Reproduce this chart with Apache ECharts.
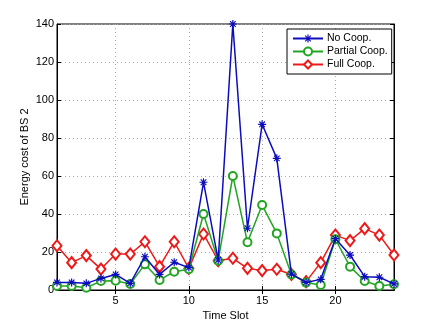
<!DOCTYPE html>
<html>
<head>
<meta charset="utf-8">
<script src="https://cdn.jsdelivr.net/npm/echarts@6/dist/echarts.min.js"></script>
<style>
  html, body { margin: 0; padding: 0; background: #fff; }
  #main { width: 436px; height: 327px; }
</style>
</head>
<body>
<div id="main"></div>
<script>
// time slots 1..24
var slots = [];
for (var i = 1; i <= 24; i++) slots.push(String(i));
var xTicks = ['5', '10', '15', '20'];

var noCoop = [4, 4, 3.5, 6.1, 8.2, 3.5, 17.5, 8.2, 14.6, 11.8, 56.7, 15.8,
              140, 32.5, 87.2, 69.3, 8.4, 4, 5.6, 27, 18.4, 7, 6.7, 3.2];
var partialCoop = [2.1, 2.1, 1.2, 4.7, 4.9, 3.2, 13.5, 5.3, 9.6, 10.9, 40, 15.4,
                   60, 25.1, 44.7, 29.8, 8.2, 3.9, 2.6, 26.7, 12.3, 4.7, 2.1, 3];
var fullCoop = [23.3, 14.4, 18.1, 11, 18.9, 18.9, 25.4, 12.3, 25.4, 11.4, 29.5, 15.4,
                16.7, 11.4, 10.2, 10.9, 8.2, 4.4, 14.4, 28.9, 26, 32.3, 28.9, 18.4];

var FONT = 'Liberation Sans';
// asterisk marker (8 arms)
var asterisk = 'path://M-0.15,-1L0.15,-1L0.15,1L-0.15,1Z' +
    'M-1,-0.15L1,-0.15L1,0.15L-1,0.15Z' +
    'M-0.6,-0.8L0.8,0.6L0.6,0.8L-0.8,-0.6Z' +
    'M0.6,-0.8L0.8,-0.6L-0.6,0.8L-0.8,0.6Z';

function showTick(idx, val) {
    return xTicks.indexOf(slots[idx]) >= 0;
}

var myChart = echarts.init(document.getElementById('main'));
var option = {
    backgroundColor: '#fff',
    animation: false,
    textStyle: { fontFamily: FONT },
    grid: { left: 57, right: 42, top: 24, bottom: 37, show: true, borderColor: '#000', borderWidth: 1 },
    legend: {
        orient: 'vertical',
        left: 287, top: 29,
        padding: [4, 4, 4, 5],
        itemWidth: 30, itemHeight: 10, itemGap: 2,
        borderColor: '#000', borderWidth: 1,
        backgroundColor: '#fff',
        textStyle: { fontFamily: FONT, fontSize: 10.5, color: '#000', padding: [0, 0, 0, -1] },
        data: ['No Coop.', 'Partial Coop.', 'Full Coop.']
    },
    xAxis: [{
        type: 'category',
        data: slots,
        boundaryGap: false,
        name: 'Time Slot',
        nameLocation: 'middle',
        nameGap: 19,
        nameTextStyle: { fontFamily: FONT, fontSize: 11, color: '#000' },
        axisLine: { lineStyle: { color: '#000', width: 1 } },
        axisTick: { inside: true, length: 4, interval: showTick, lineStyle: { color: '#000' } },
        axisLabel: { interval: showTick, fontSize: 11, color: '#000', margin: 5 },
        splitLine: { show: true, interval: showTick, lineStyle: { color: '#aaa', type: [1, 3] } }
    }, {
        type: 'category',
        data: slots,
        boundaryGap: false,
        position: 'top',
        axisLine: { lineStyle: { color: '#000' } },
        axisTick: { inside: true, length: 4, interval: showTick, lineStyle: { color: '#000' } },
        axisLabel: { show: false },
        splitLine: { show: false }
    }],
    yAxis: [{
        type: 'value',
        min: 0, max: 140, interval: 20,
        name: 'Energy cost of BS 2',
        nameLocation: 'middle',
        nameGap: 27,
        nameMoveOverlap: false,
        nameTextStyle: { fontFamily: FONT, fontSize: 11, color: '#000' },
        axisLine: { show: true, lineStyle: { color: '#000' } },
        axisTick: { show: true, inside: true, length: 4, lineStyle: { color: '#000' } },
        axisLabel: { fontSize: 11, color: '#000', margin: 3 },
        splitLine: { show: true, lineStyle: { color: '#aaa', type: [1, 3] } }
    }, {
        type: 'value',
        min: 0, max: 140, interval: 20,
        position: 'right',
        axisLine: { show: true, lineStyle: { color: '#000' } },
        axisTick: { show: true, inside: true, length: 4, lineStyle: { color: '#000' } },
        axisLabel: { show: false },
        splitLine: { show: false }
    }],
    series: [{
        name: 'No Coop.',
        type: 'line',
        data: noCoop,
        symbol: asterisk,
        symbolSize: 8,
        showAllSymbol: true,
        color: '#0c0cbe',
        lineStyle: { width: 1.5, color: '#0c0cbe' },
        itemStyle: { borderWidth: 0 },
        z: 4
    }, {
        name: 'Partial Coop.',
        type: 'line',
        data: partialCoop,
        symbol: 'emptyCircle',
        symbolSize: 8,
        showAllSymbol: true,
        color: '#22a522',
        lineStyle: { width: 1.5, color: '#22a522' },
        itemStyle: { borderWidth: 1.1 },
        z: 3
    }, {
        name: 'Full Coop.',
        type: 'line',
        data: fullCoop,
        symbol: 'emptyDiamond',
        symbolSize: [9, 11],
        showAllSymbol: true,
        color: '#ec1a1a',
        lineStyle: { width: 1.5, color: '#ec1a1a' },
        itemStyle: { borderWidth: 1.1 },
        z: 2
    }]
};
myChart.setOption(option);
</script>
</body>
</html>
